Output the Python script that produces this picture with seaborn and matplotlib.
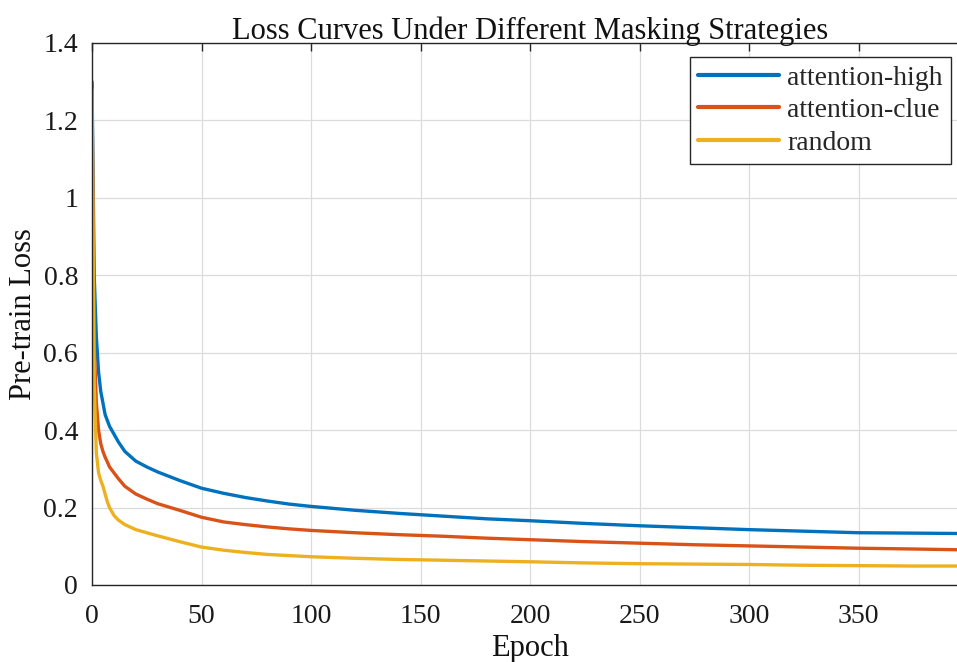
import matplotlib
matplotlib.use("Agg")
import matplotlib.pyplot as plt
import seaborn as sns
import pandas as pd

epochs = [0, 1, 2, 3, 4, 5, 6, 7, 8, 10, 12, 15, 20, 25, 30, 40, 50, 60, 70, 80, 90,
          100, 120, 140, 160, 180, 200, 225, 250, 275, 300, 325, 350, 375, 396]
attention_high = [1.30, 0.80, 0.64, 0.55, 0.50, 0.47, 0.44, 0.425, 0.41, 0.39, 0.37, 0.345,
                  0.32, 0.305, 0.292, 0.27, 0.25, 0.237, 0.226, 0.217, 0.209, 0.203, 0.193,
                  0.185, 0.178, 0.171, 0.166, 0.159, 0.153, 0.148, 0.143, 0.139, 0.135,
                  0.134, 0.133]
attention_clue = [1.29, 0.62, 0.47, 0.40, 0.365, 0.345, 0.33, 0.318, 0.305, 0.29, 0.275, 0.255,
                  0.235, 0.222, 0.21, 0.193, 0.175, 0.163, 0.156, 0.15, 0.145, 0.141, 0.135,
                  0.130, 0.126, 0.121, 0.117, 0.112, 0.108, 0.104, 0.101, 0.098, 0.095,
                  0.093, 0.091]
random_mask = [1.28, 0.52, 0.34, 0.29, 0.27, 0.255, 0.235, 0.215, 0.20, 0.18, 0.168, 0.156,
               0.143, 0.135, 0.127, 0.112, 0.098, 0.09, 0.084, 0.079, 0.076, 0.073, 0.069,
               0.066, 0.064, 0.062, 0.06, 0.057, 0.055, 0.054, 0.053, 0.051, 0.050,
               0.049, 0.049]
series_names = ["attention-high", "attention-clue", "random"]
colors = ["#0072BD", "#D95319", "#EDB120"]

df = pd.concat([
    pd.DataFrame({"Epoch": epochs, "Loss": vals, "Strategy": name})
    for name, vals in zip(series_names, [attention_high, attention_clue, random_mask])
])

sns.set_style("whitegrid")
plt.rcParams["font.family"] = ["Liberation Serif", "DejaVu Serif"]
plt.rcParams["mathtext.fontset"] = "stix"

fig = plt.figure(figsize=(9.57, 6.62), dpi=100)
ax = fig.add_axes([92 / 957, 1 - 585 / 662, (968 - 92) / 957, (585 - 43) / 662])

sns.lineplot(data=df, x="Epoch", y="Loss", hue="Strategy", hue_order=series_names,
             palette=colors, linewidth=2.4, ax=ax, legend=True)

ax.set_xlim(0, 400)
ax.set_ylim(0, 1.4)
ax.set_xticks([0, 50, 100, 150, 200, 250, 300, 350])
ax.set_yticks([0, 0.2, 0.4, 0.6, 0.8, 1.0, 1.2, 1.4])
ax.set_yticklabels(["0", "0.2", "0.4", "0.6", "0.8", "1", "1.2", "1.4"])
ax.tick_params(axis="both", direction="in", length=6, width=1.0, colors="#262626",
               labelsize=20, top=True, right=True)
ax.tick_params(axis="x", pad=14)
ax.tick_params(axis="y", pad=10)
ax.tick_params(axis="both", labelcolor="#1a1a1a")
ax.grid(True, color="#dcdcdc", linewidth=0.9)
for side in ["left", "bottom", "top", "right"]:
    ax.spines[side].set_visible(True)
    ax.spines[side].set_color("#262626")
    ax.spines[side].set_linewidth(1.0)

ax.set_title("Loss Curves Under Different Masking Strategies", fontsize=22, color="#111111", pad=3)
ax.set_xlabel("Epoch", fontsize=22, color="#111111", labelpad=3)
ax.set_ylabel("Pre-train Loss", fontsize=22, color="#111111", labelpad=4)

leg = ax.legend(loc="upper right", bbox_to_anchor=(951 / 957, 1 - 57 / 662),
                bbox_transform=fig.transFigure, fontsize=20, frameon=True, fancybox=False,
                edgecolor="#262626", framealpha=1, handlelength=2.9, borderpad=0.3,
                labelspacing=0.25, handletextpad=0.3, borderaxespad=0)
leg.get_frame().set_linewidth(1.0)
for line in leg.get_lines():
    line.set_linewidth(3.0)

fig.savefig("out.png", dpi=100)
